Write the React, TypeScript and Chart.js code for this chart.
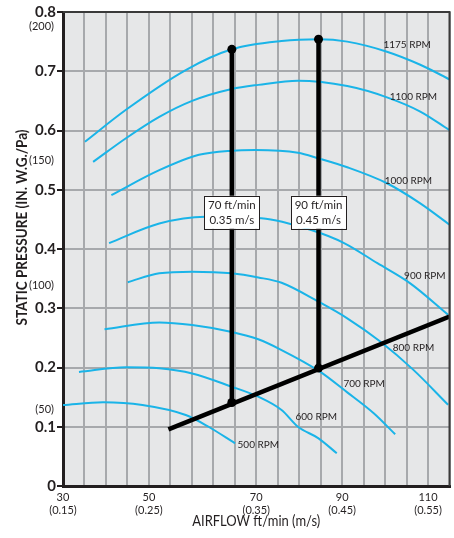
import React, { useEffect, useRef } from 'react';
import { Chart, registerables } from 'chart.js';

Chart.register(...registerables);

// ---------- Axis configuration ----------
const X_MIN = 30;
const X_STEP = 80 / 17; // one vertical grid cell
const X_CELLS = 18;
const X_TICK_LABELS = ['30', '', '', '', '50', '', '', '', '', '70', '', '', '', '90', '', '', '', '110', ''];
const X_TICK_SUBLABELS = ['(0.15)', '', '', '', '(0.25)', '', '', '', '', '(0.35)', '', '', '', '(0.45)', '', '', '', '(0.55)', ''];
const Y_MIN = 0;
const Y_MAX = 0.8;
const Y_STEP = 0.1;
const PA_LABELS = ['(200)', '(150)', '(100)', '(50)'];
const PA_VALUES = [0.776, 0.55, 0.338, 0.13];

const X_TITLE = 'AIRFLOW ft/min (m/s)';
const Y_TITLE = 'STATIC PRESSURE (IN. W.G./Pa)';

// ---------- Fan curves (ft/min, in. W.G.) ----------
const rpm1175 = [[34.8, 0.581], [43.8, 0.635], [56.9, 0.702], [67.0, 0.737], [77.9, 0.751], [86.0, 0.754], [92.3, 0.75], [101.0, 0.733], [108.3, 0.711], [114.8, 0.686]];
const rpm1100 = [[36.6, 0.547], [43.8, 0.587], [51.1, 0.623], [58.3, 0.65], [67.0, 0.67], [72.8, 0.677], [81.5, 0.684], [92.3, 0.675], [101.0, 0.656], [108.3, 0.632], [114.8, 0.6]];
const rpm1000 = [[40.6, 0.491], [51.1, 0.533], [59.8, 0.559], [67.0, 0.566], [72.1, 0.567], [81.5, 0.5625], [86.0, 0.553], [92.3, 0.538], [101.0, 0.511], [108.3, 0.477], [114.8, 0.4405]];
const rpm900 = [[40.1, 0.41], [51.1, 0.443], [61.2, 0.4545], [73.5, 0.452], [84.4, 0.432], [91.6, 0.41], [98.9, 0.376], [106.1, 0.342], [114.4, 0.289]];
const rpm800 = [[44.2, 0.344], [51.1, 0.359], [58.3, 0.3617], [67.0, 0.359], [72.8, 0.352], [77.9, 0.343], [86.0, 0.311], [92.3, 0.283], [99.6, 0.2435], [106.8, 0.196], [114.4, 0.137]];
const rpm700 = [[39.1, 0.2645], [51.1, 0.276], [58.3, 0.2717], [67.0, 0.26], [72.8, 0.2476], [77.9, 0.2295], [86.0, 0.1946], [92.3, 0.158], [98.1, 0.1227], [102.8, 0.0873]];
const rpm600 = [[33.5, 0.1924], [43.8, 0.2003], [51.1, 0.1986], [58.3, 0.19], [67.0, 0.1676], [72.8, 0.1507], [77.9, 0.1283], [81.5, 0.1], [86.0, 0.0805], [90.0, 0.0552]];
const rpm500 = [[30.0, 0.1367], [38.8, 0.1413], [47.4, 0.1367], [56.9, 0.1198], [61.9, 0.1], [67.7, 0.072]];

const CURVES = [rpm1175, rpm1100, rpm1000, rpm900, rpm800, rpm700, rpm600, rpm500];
const RPM_LABELS = ['1175 RPM', '1100 RPM', '1000 RPM', '900 RPM', '800 RPM', '700 RPM', '600 RPM', '500 RPM'];
const RPM_LABEL_X = [105.4, 106.8, 105.7, 109.3, 106.8, 96.0, 85.5, 72.8];
const RPM_LABEL_Y = [0.7455, 0.6565, 0.5148, 0.355, 0.234, 0.1733, 0.116, 0.0692];

// ---------- System line & operating points ----------
const SYSTEM_X = [53.1, 114.7];
const SYSTEM_Y = [0.0957, 0.286];
const OP_X = [67.0, 86.0];
const OP_TOP = [0.737, 0.754];
const OP_BOTTOM = [0.141, 0.199];
const OP_LABELS = [['70 ft/min', '0.35 m/s'], ['90 ft/min', '0.45 m/s']];
const OP_LABEL_Y = 0.462;

const FONT = 'Lato, "Open Sans", sans-serif';
const TEXT = '#231f20';
const CYAN = '#1ab4e8';
const GRID = '#a7a9ac';
const BG = '#e6e7e8';

function fitText(ctx: CanvasRenderingContext2D, text: string, x: number, y: number, rot: number, maxW: number) {
  ctx.save();
  ctx.translate(x, y);
  ctx.rotate(rot);
  const w = ctx.measureText(text).width;
  const k = Math.min(1, maxW / w);
  ctx.scale(k, 1);
  ctx.fillText(text, 0, 0);
  ctx.restore();
}

const decorPlugin = {
  id: 'decor',
  beforeDraw(chart: any) {
    const { ctx, chartArea: a } = chart;
    ctx.save();
    ctx.fillStyle = BG;
    ctx.fillRect(a.left, a.top, a.right - a.left, a.bottom - a.top);
    ctx.restore();
  },
  afterDatasetsDraw(chart: any) {
    const { ctx, chartArea: a, scales } = chart;
    const xs = scales.x;
    const ys = scales.y;
    ctx.save();
    // top & right frame
    ctx.strokeStyle = '#3a3a3a';
    ctx.lineWidth = 2;
    ctx.beginPath();
    ctx.moveTo(a.left, a.top);
    ctx.lineTo(a.right, a.top);
    ctx.lineTo(a.right, a.bottom);
    ctx.stroke();

    // operating point label boxes
    OP_LABELS.forEach((lines, i) => {
      const cx = xs.getPixelForValue(OP_X[i]);
      const cy = ys.getPixelForValue(OP_LABEL_Y);
      const w = 55;
      const h = 33;
      ctx.fillStyle = '#ffffff';
      ctx.fillRect(cx - w / 2, cy - h / 2, w, h);
      ctx.strokeStyle = TEXT;
      ctx.lineWidth = 1;
      ctx.strokeRect(Math.round(cx - w / 2) + 0.5, Math.round(cy - h / 2) + 0.5, w, h);
      ctx.fillStyle = TEXT;
      ctx.font = '11.5px ' + FONT;
      ctx.textAlign = 'center';
      ctx.textBaseline = 'middle';
      ctx.fillText(lines[0], cx, cy - 7);
      ctx.fillText(lines[1], cx, cy + 8);
    });

    // RPM labels
    ctx.fillStyle = TEXT;
    ctx.font = '10px ' + FONT;
    ctx.textAlign = 'center';
    ctx.textBaseline = 'middle';
    RPM_LABELS.forEach((t, i) => {
      ctx.fillText(t, xs.getPixelForValue(RPM_LABEL_X[i]), ys.getPixelForValue(RPM_LABEL_Y[i]));
    });
    ctx.restore();
  },
  afterDraw(chart: any) {
    const { ctx, scales, chartArea: a } = chart;
    const ys = scales.y;
    ctx.save();
    // Pa labels
    ctx.fillStyle = TEXT;
    ctx.font = '11px ' + FONT;
    ctx.textAlign = 'right';
    ctx.textBaseline = 'middle';
    PA_LABELS.forEach((t, i) => {
      ctx.fillText(t, 54, ys.getPixelForValue(PA_VALUES[i]));
    });
    // Y title (condensed)
    ctx.textAlign = 'center';
    ctx.font = 'bold 14.5px ' + FONT;
    fitText(ctx, Y_TITLE, 22.5, 227.5, -Math.PI / 2, 196);
    // X title (condensed)
    ctx.font = '15.5px ' + FONT;
    fitText(ctx, X_TITLE, (a.left + a.right) / 2, 521, 0, 128);
    ctx.restore();
  },
};

export default function App() {
  const ref = useRef<HTMLCanvasElement>(null);

  useEffect(() => {
    if (!ref.current) return;
    const curveSets = CURVES.map((c, i) => ({
      label: RPM_LABELS[i],
      data: c.map(([x, y]) => ({ x, y })),
      showLine: true,
      borderColor: CYAN,
      borderWidth: 2,
      pointRadius: 0,
      cubicInterpolationMode: 'monotone' as const,
      clip: 0,
      order: 3,
    }));
    const opLines = OP_X.map((x, i) => ({
      label: 'op' + i,
      data: [{ x, y: OP_BOTTOM[i] }, { x, y: OP_TOP[i] }],
      showLine: true,
      borderColor: '#000',
      borderWidth: 4.5,
      pointRadius: 0,
      order: 2,
    }));
    const systemLine = {
      label: 'system',
      data: SYSTEM_X.map((x, i) => ({ x, y: SYSTEM_Y[i] })),
      showLine: true,
      borderColor: '#000',
      borderWidth: 4.5,
      pointRadius: 0,
      clip: 0,
      order: 2,
    };
    const dots = {
      label: 'points',
      data: [
        ...OP_X.map((x, i) => ({ x, y: OP_TOP[i] })),
        ...OP_X.map((x, i) => ({ x, y: OP_BOTTOM[i] })),
      ],
      showLine: false,
      pointRadius: 4.5,
      pointBackgroundColor: '#000',
      pointBorderWidth: 0,
      order: 1,
    };

    const chart = new Chart(ref.current, {
      type: 'scatter',
      data: { datasets: [...curveSets, ...opLines, systemLine, dots] as any },
      options: {
        animation: false,
        responsive: false,
        events: [],
        layout: { padding: { top: 12, right: 2, left: 0, bottom: 0 } },
        plugins: { legend: { display: false }, tooltip: { enabled: false } },
        scales: {
          x: {
            type: 'linear',
            min: X_MIN,
            max: X_MIN + X_CELLS * X_STEP,
            afterBuildTicks: (scale: any) => {
              scale.ticks = X_TICK_LABELS.map((_, k) => ({ value: X_MIN + k * X_STEP }));
            },
            afterFit: (scale: any) => {
              scale.height = 52;
              scale.paddingLeft = 0;
              scale.paddingRight = 0;
            },
            grid: { color: GRID, lineWidth: 2, drawTicks: false },
            border: { color: TEXT, width: 3 },
            ticks: {
              autoSkip: false,
              maxRotation: 0,
              padding: 5,
              color: TEXT,
              font: { family: FONT, size: 11, lineHeight: 1.2 },
              callback: (_v: any, i: number) =>
                X_TICK_LABELS[i] ? [X_TICK_LABELS[i], X_TICK_SUBLABELS[i]] : '',
            },
            title: { display: false },
          },
          y: {
            type: 'linear',
            min: Y_MIN,
            max: Y_MAX,
            afterFit: (scale: any) => {
              scale.width = 63;
              scale.paddingTop = 0;
              scale.paddingBottom = 0;
            },
            grid: { color: GRID, lineWidth: 2, tickColor: TEXT, tickLength: 6, tickWidth: 2 },
            border: { color: TEXT, width: 3 },
            ticks: {
              stepSize: Y_STEP,
              padding: 1,
              color: TEXT,
              font: { family: FONT, size: 15, weight: 'bold' },
              callback: (v: any) => (Number(v) === 0 ? '0' : Number(v).toFixed(1)),
            },
            title: { display: false },
          },
        },
      },
      plugins: [decorPlugin],
    });
    return () => chart.destroy();
  }, []);

  return (
    <div style={{ position: 'fixed', left: 0, top: 0, width: 454, height: 538, background: '#fff' }}>
      <canvas ref={ref} width={454} height={538} style={{ display: 'block' }} />
    </div>
  );
}
